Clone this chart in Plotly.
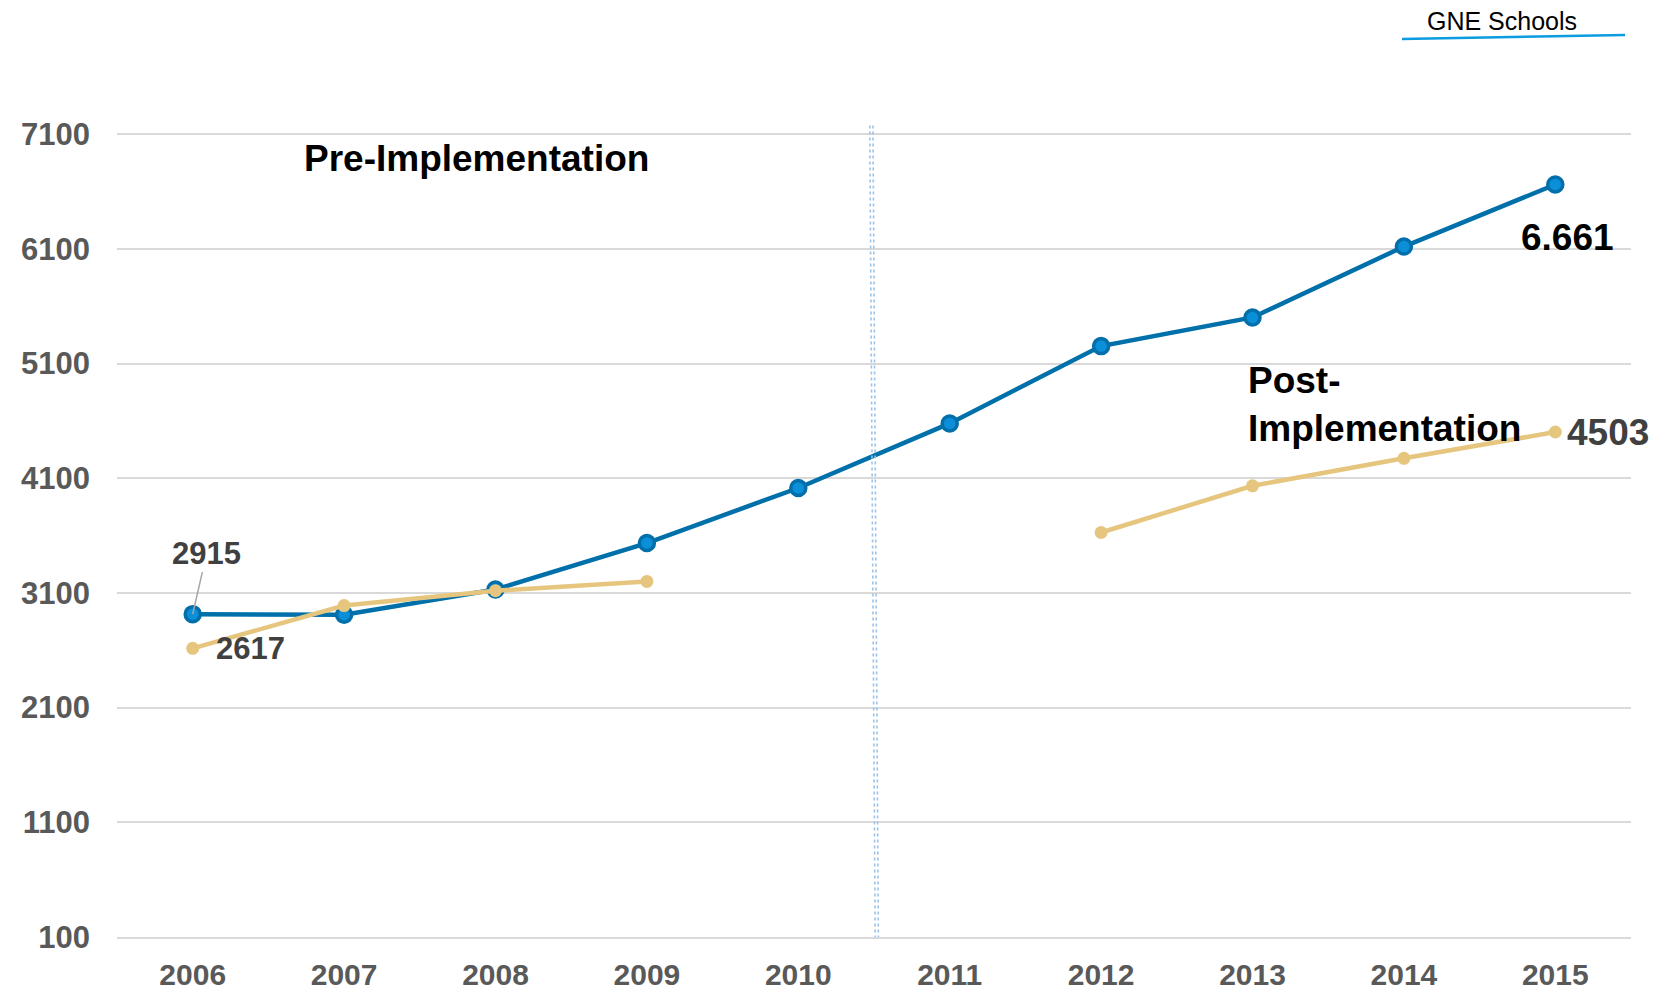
import plotly.graph_objects as go

years = [2006, 2007, 2008, 2009, 2010, 2011, 2012, 2013, 2014, 2015]
gne_schools = [2915, 2910, 3130, 3535, 4015, 4578, 5252, 5502, 6120, 6661]
comparison = [2617, 2990, 3120, 3200, None, None, 3627, 4034, 4274, 4503]
y_ticks = [100, 1100, 2100, 3100, 4100, 5100, 6100, 7100]

W, H = 1663, 992
L, R, T, B = 117, 32, 125, 55
FONT = "Liberation Sans, Arial, sans-serif"

fig = go.Figure()
fig.add_trace(go.Scatter(
    x=years, y=gne_schools, mode="lines+markers", name="GNE Schools",
    line=dict(color="#0070AA", width=4.5),
    marker=dict(size=15, color="#0A8FD8", line=dict(color="#006FAA", width=3.5)),
))
fig.add_trace(go.Scatter(
    x=years, y=comparison, mode="lines+markers", name="Comparison",
    line=dict(color="#E6C67F", width=4.5),
    marker=dict(size=13, color="#E6C67F"),
    connectgaps=False,
))

def fmt_dot(v):
    return f"{v:,}".replace(",", ".")

ann = []
ann.append(dict(x=2006.72, y=6887, text="<b>Pre-Implementation</b>", showarrow=False,
                xanchor="left", yanchor="middle", font=dict(size=37, color="#000000")))
ann.append(dict(x=2012.96, y=4740, text="<b>Post-<br>Implementation</b>", showarrow=False,
                xanchor="left", yanchor="middle", align="left",
                font=dict(size=37, color="#000000")))
ann.append(dict(x=years[-1] + 0.08, y=6203, text=f"<b>{fmt_dot(gne_schools[-1])}</b>",
                showarrow=False, xanchor="center", yanchor="middle",
                font=dict(size=37, color="#000000")))
ann.append(dict(x=years[-1] + 0.35, y=4495, text=f"<b>{comparison[-1]}</b>",
                showarrow=False, xanchor="center", yanchor="middle",
                font=dict(size=37, color="#404040")))
ann.append(dict(x=years[0], y=gne_schools[0], text=f"<b>{gne_schools[0]}</b>",
                showarrow=True, arrowhead=0, arrowwidth=1.5, arrowcolor="#A6A6A6",
                ax=14, ay=-61, standoff=0, font=dict(size=31, color="#404040")))
ann.append(dict(x=years[0] + 0.385, y=2612, text=f"<b>{comparison[0]}</b>",
                showarrow=False, xanchor="center", yanchor="middle",
                font=dict(size=31, color="#404040")))

pw = W - L - R
ph = H - T - B
def px(xp):
    return (xp - L) / pw
def py(yp):
    return (H - B - yp) / ph

ann.append(dict(xref="paper", yref="paper", x=px(1502), y=py(21), text="GNE Schools",
                xanchor="center", yanchor="middle",
                showarrow=False, font=dict(size=25, color="#000000")))

shapes = [
    dict(type="line", xref="paper", yref="paper", x0=px(1402), y0=py(39), x1=px(1625), y1=py(35),
         line=dict(color="#0A9BE0", width=2.5)),
    dict(type="line", xref="x", yref="y", x0=2010.472, y0=7175, x1=2010.508, y1=100,
         line=dict(color="#9DC3E6", width=1.6, dash="dot")),
    dict(type="line", xref="x", yref="y", x0=2010.493, y0=7175, x1=2010.529, y1=100,
         line=dict(color="#9DC3E6", width=1.6, dash="dot")),
]

fig.update_layout(
    width=W, height=H,
    margin=dict(l=L, r=R, t=T, b=B, autoexpand=False),
    paper_bgcolor="white", plot_bgcolor="white",
    showlegend=False,
    font=dict(family=FONT),
    annotations=ann, shapes=shapes,
    xaxis=dict(range=[2005.5, 2015.5], tickvals=years, ticktext=[f"<b>{y}</b>" for y in years],
               showgrid=False, zeroline=False, showline=True, linecolor="#D9D9D9", linewidth=2,
               ticks="", tickfont=dict(size=30, color="#595959", family=FONT),
               ticklabelstandoff=10, automargin=False),
    yaxis=dict(range=[100, 7180], tickvals=y_ticks, ticktext=[f"<b>{v}</b>" for v in y_ticks],
               showgrid=True, gridcolor="#D9D9D9", gridwidth=2, zeroline=False,
               ticks="", tickfont=dict(size=31, color="#595959", family=FONT),
               ticklabelstandoff=26, automargin=False),
)

fig.write_html("out.html", config={"displayModeBar": False},
               post_script="document.body.style.margin='0';document.body.style.overflow='hidden';")
